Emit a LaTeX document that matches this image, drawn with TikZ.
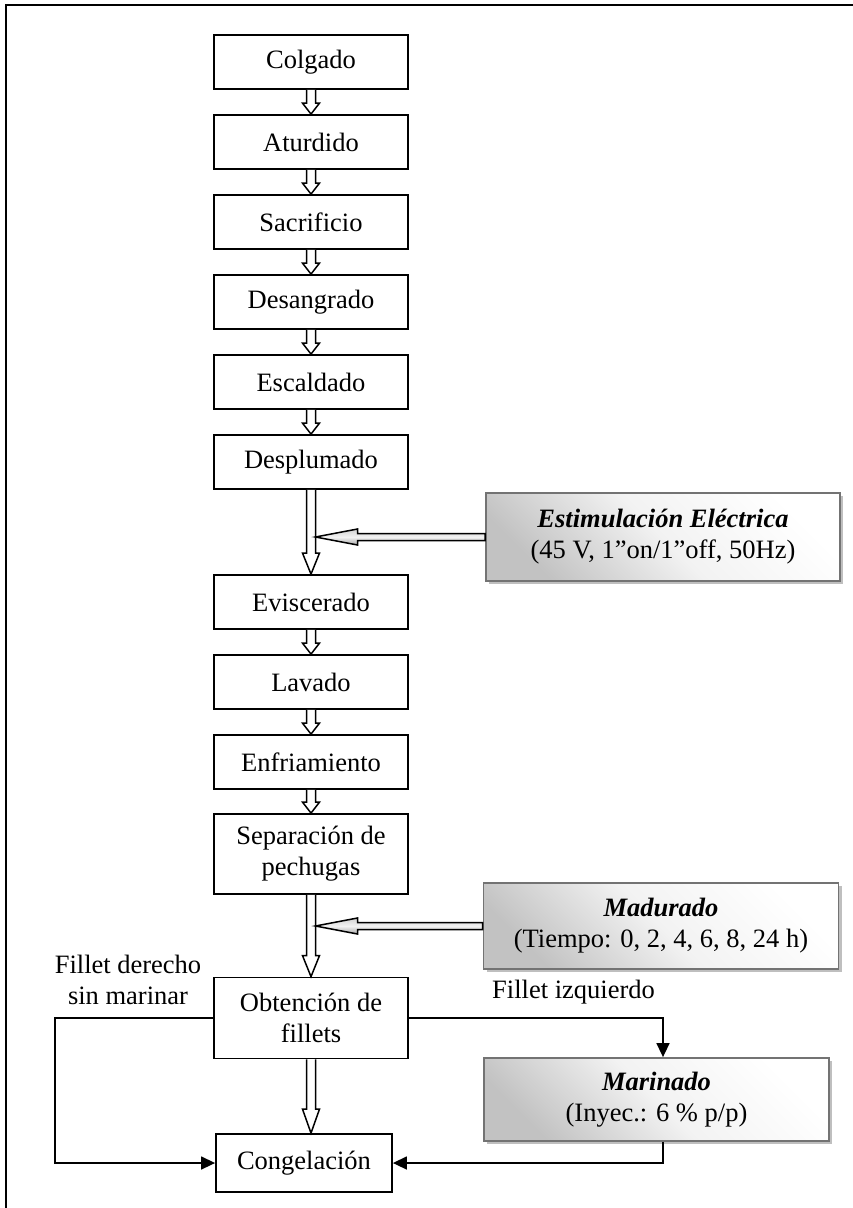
\documentclass[tikz,border=0pt]{standalone}
\usepackage{fontspec}
\setmainfont{Liberation Serif}
\usetikzlibrary{calc,arrows.meta,shadows}
\tikzset{
  every node/.style={font=\fontsize{26.5}{31}\selectfont},
  stepbox/.style={draw, line width=1.8pt, fill=white, inner sep=0pt, minimum width=194pt, minimum height=54pt, align=center},
  infobox/.style={draw=black!55, line width=1.8pt, inner sep=0pt, align=center,
    top color=gray!48, bottom color=white, middle color=gray!10, shading angle=135,
    drop shadow={shadow xshift=3pt, shadow yshift=-3pt, fill=gray!50, opacity=1}},
  hollow/.style={draw, line width=1.5pt, fill=white, line join=miter},
  grayarrow/.style={draw, line width=1.5pt, top color=gray!35, bottom color=gray!70, middle color=gray!10, line join=miter},
  conn/.style={line width=1.5pt, -{Triangle[length=14pt,width=13pt]}},
  frameline/.style={line width=2.5pt},
  lbl/.style={inner sep=0pt, align=center}
}
\newcommand{\hollowdown}[3]{%
  \draw[hollow] let \p1=(#1.south), \p2=(#2.north) in
    (\x1-4.5pt,\y1) -- (\x1-4.5pt,\y2+#3) -- (\x1-8.5pt,\y2+#3) -- (\x1,\y2)
    -- (\x1+8.5pt,\y2+#3) -- (\x1+4.5pt,\y2+#3) -- (\x1+4.5pt,\y1);}
\newcommand{\grayleft}[2]{%
  \draw[grayarrow] let \p1=(#1.west), \p2=(#2.south) in
    (\x1,\y1+3.5pt) -- (\x2+46.5pt,\y1+3.5pt) -- (\x2+46.5pt,\y1+8pt) -- (\x2+4.5pt,\y1)
    -- (\x2+46.5pt,\y1-8pt) -- (\x2+46.5pt,\y1-3.5pt) -- (\x1,\y1-3.5pt) -- cycle;}
\begin{document}
\begin{tikzpicture}[x=1pt,y=-1pt]
\useasboundingbox (0,0) rectangle (853,1208);
\draw[frameline] (6,1208) -- (6,5) -- (853,5);

\node[stepbox] (colg) at (311,62) {Colgado};
\node[stepbox] (atur) at (311,142) {Aturdido};
\node[stepbox] (sacr) at (311,222) {Sacrificio};
\node[stepbox] (desa) at (311,302) {Desangrado};
\node[stepbox] (esca) at (311,382) {Escaldado};
\node[stepbox] (desp) at (311,462) {Desplumado};
\node[stepbox] (evis) at (311,602) {Eviscerado};
\node[stepbox] (lava) at (311,682) {Lavado};
\node[stepbox] (enfr) at (311,762) {Enfriamiento};
\node[stepbox, minimum height=80pt] (sepa) at (311,854) {Separación de\\pechugas};
\node[stepbox, minimum height=81pt] (obte) at (311,1018) {Obtención de\\fillets};
\node[stepbox, minimum width=176pt, minimum height=58pt] (cong) at (304,1163) {Congelación};

\node[infobox, minimum width=354pt, minimum height=88pt] (esti) at (663,537)
  {\textbf{\textit{Estimulación Eléctrica}}\\(45 V, 1”on/1”off, 50Hz)};
\node[infobox, minimum width=355pt, minimum height=86pt] (madu) at (661,926)
  {\textbf{\textit{Madurado}}\\(Tiempo: 0, 2, 4, 6, 8, 24 h)};
\node[infobox, minimum width=345pt, minimum height=83pt] (mari) at (656.5,1099.5)
  {\textbf{\textit{Marinado}}\\(Inyec.: 6 \% p/p)};

\node[lbl] (lder) at (128,980) {Fillet derecho\\sin marinar};
\node[lbl, anchor=west] (lizq) at (492,992) {Fillet izquierdo};

\hollowdown{colg}{atur}{11pt}
\hollowdown{atur}{sacr}{11pt}
\hollowdown{sacr}{desa}{11pt}
\hollowdown{desa}{esca}{11pt}
\hollowdown{esca}{desp}{11pt}
\hollowdown{desp}{evis}{21pt}
\hollowdown{evis}{lava}{11pt}
\hollowdown{lava}{enfr}{11pt}
\hollowdown{enfr}{sepa}{11pt}
\hollowdown{sepa}{obte}{21pt}
\hollowdown{obte}{cong}{24pt}

\grayleft{esti}{desp}
\grayleft{madu}{sepa}

\coordinate (lc) at (55,1018);
\coordinate (rc) at (663,1018);
\draw[conn] (obte.west) -- (obte.west -| lc) |- (cong.west);
\draw[conn] (obte.east) -| (rc |- mari.north);
\draw[conn] (rc |- mari.south) |- (cong.east);
\end{tikzpicture}
\end{document}
